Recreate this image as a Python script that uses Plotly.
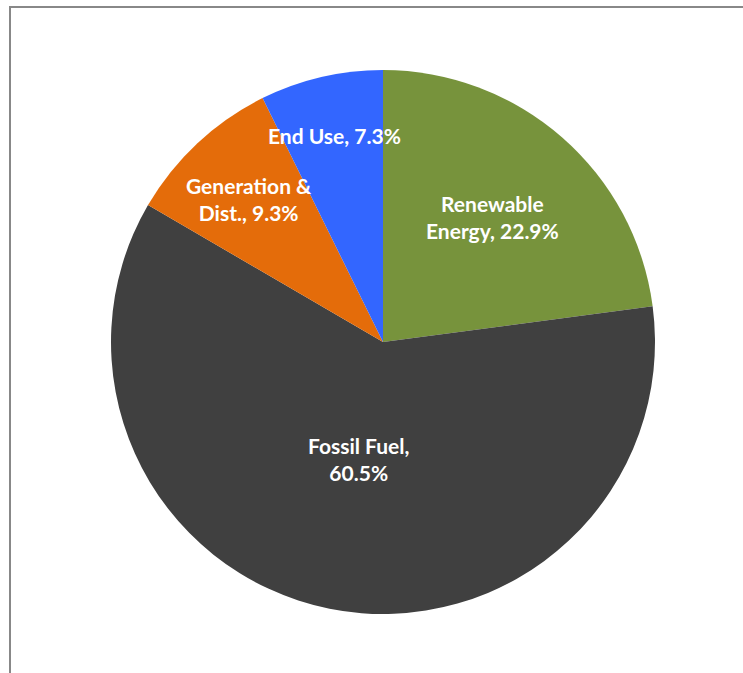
import math
import plotly.graph_objects as go

# Share of spending by segment (percent)
categories = ["Renewable Energy", "Fossil Fuel", "Generation & Dist.", "End Use"]
shares = [22.9, 60.5, 9.3, 7.3]
label_text = ["Renewable<br>Energy, 22.9%", "Fossil Fuel,<br>60.5%",
              "Generation &<br>Dist., 9.3%", "End Use, 7.3%"]

colors = ["#77933C", "#404040", "#E46C0A", "#3366FF"]
# radial placement of each label as a fraction of the pie radius
label_radius = [0.61, 0.44, 0.72, 0.78]

W, H = 743, 673
cx, cy, R = 383, 342, 272  # pie centre and radius in pixels

fig = go.Figure(go.Pie(
    labels=categories,
    values=shares,
    sort=False,
    direction="clockwise",
    rotation=0,
    marker=dict(colors=colors, line=dict(width=0)),
    textinfo="none",
    hoverinfo="label+percent",
    showlegend=False,
    domain=dict(x=[(cx - R) / W, (cx + R) / W],
                y=[(H - (cy + R)) / H, (H - (cy - R)) / H]),
))

# labels placed at the angular midpoint of each slice
total = sum(shares)
cum = 0.0
annotations = []
for txt, v, rf in zip(label_text, shares, label_radius):
    mid = (cum + v / 2) / total * 2 * math.pi
    cum += v
    px = cx + rf * R * math.sin(mid)
    py = cy - rf * R * math.cos(mid)
    annotations.append(dict(
        x=px / W, y=1 - py / H, xref="paper", yref="paper",
        xanchor="center", yanchor="middle",
        text=txt, showarrow=False, align="center",
        font=dict(family="Lato", size=21, color="white", weight="bold"),
    ))

fig.update_layout(
    width=W, height=H,
    margin=dict(l=0, r=0, t=0, b=0),
    paper_bgcolor="white",
    plot_bgcolor="white",
    annotations=annotations,
    shapes=[dict(type="rect", xref="paper", yref="paper",
                 x0=10 / W, x1=1.2, y0=-0.2, y1=1 - 7 / H,
                 line=dict(color="#888888", width=2), fillcolor="rgba(0,0,0,0)")],
)

fig.write_html("out.html")
